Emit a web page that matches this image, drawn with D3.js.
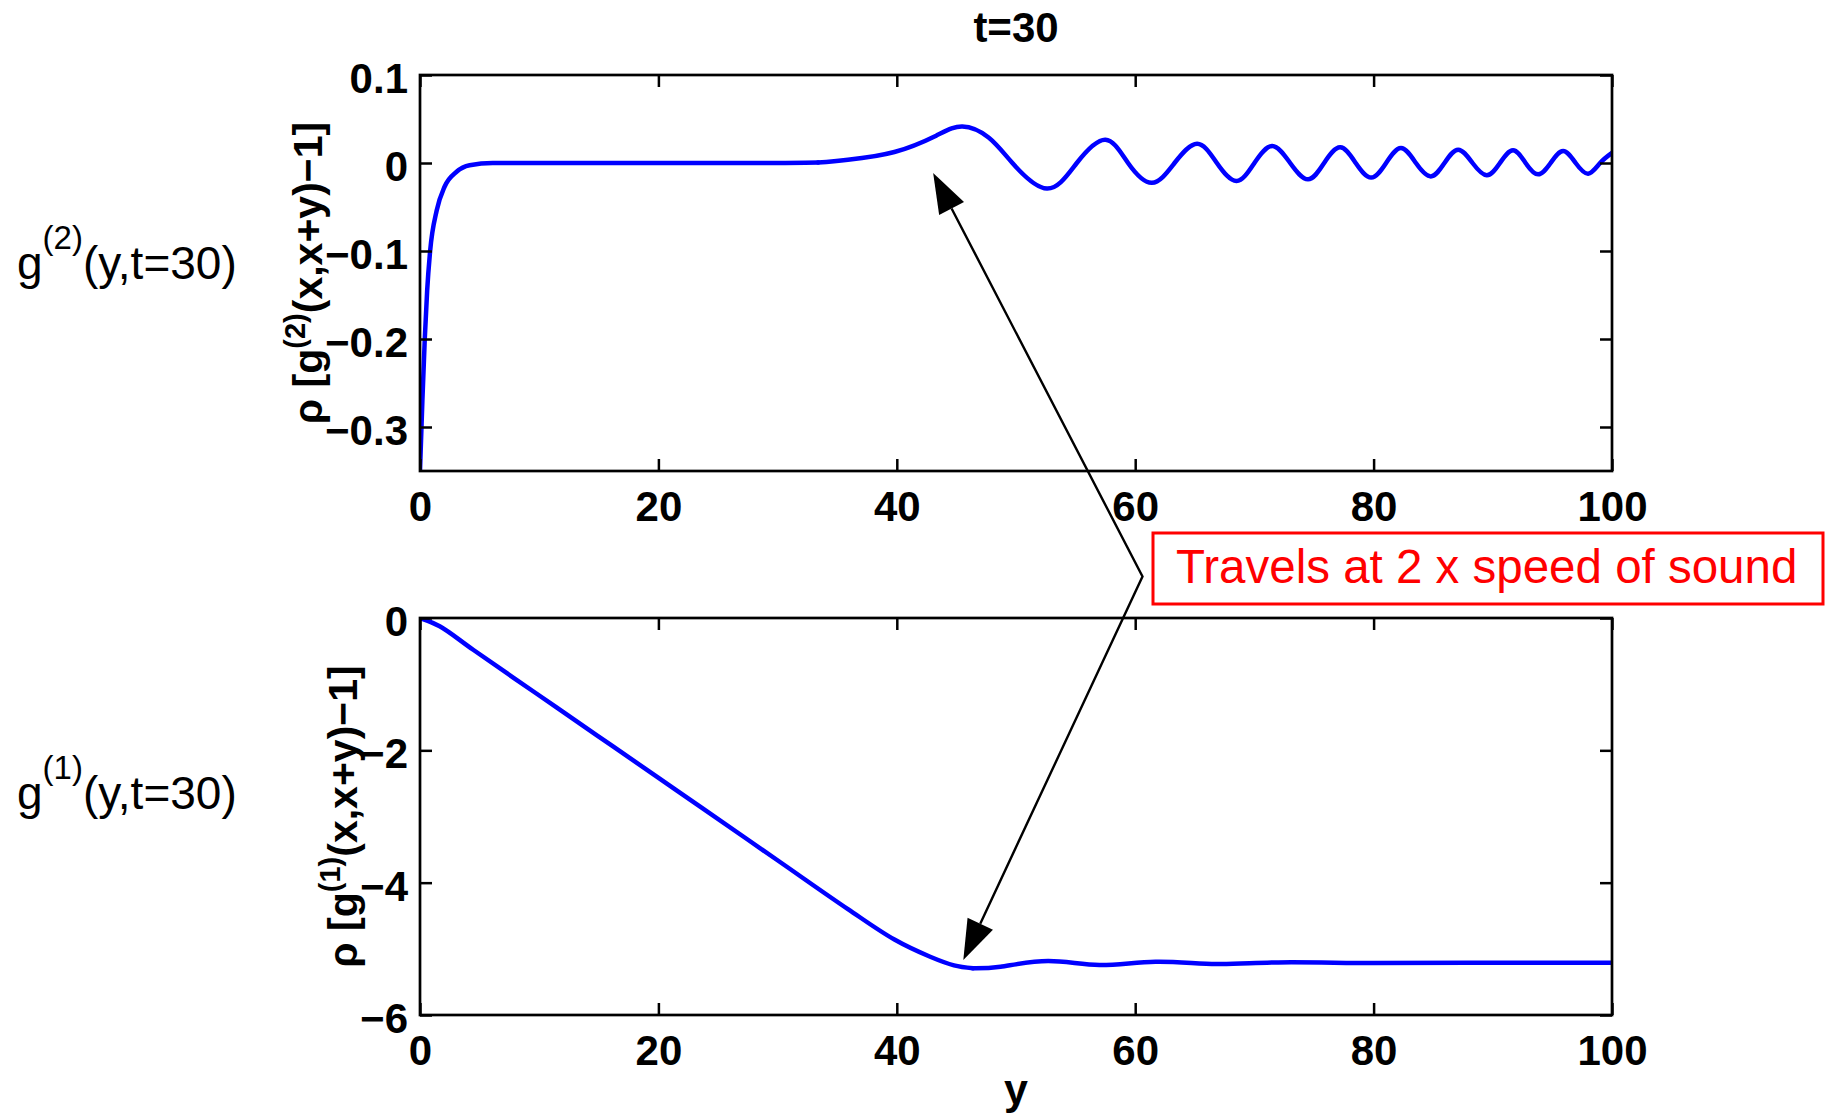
<!DOCTYPE html>
<html>
<head>
<meta charset="utf-8">
<script src="https://cdn.jsdelivr.net/npm/d3@7"></script>
<style>
  html, body { margin: 0; padding: 0; background: #fff; }
  svg { display: block; }
</style>
</head>
<body>
<div id="canvas"></div>
<script>
// g2(y,t=30): density-density correlation along y
var g2X = [0, 0.2, 0.4, 0.6, 0.85, 1.4, 2.06, 3.07, 4.16, 6.1, 15, 25, 30, 33.4,
  35.9, 39.8, 43.3, 45.5, 47.7, 49.7, 52.6, 55.1, 57.5, 59.4, 61.4, 63.3, 65.2, 66.85,
  68.5, 70.0, 71.5, 73.0, 74.5, 75.85, 77.2, 78.5, 79.8, 81.05, 82.3, 83.55, 84.8,
  85.95, 87.1, 88.3, 89.5, 90.6, 91.7, 92.75, 93.8, 94.85, 95.9, 96.95, 98.0, 99.0, 100];
var g2Y = [-0.35, -0.27, -0.20, -0.145, -0.10, -0.054, -0.027, -0.010, -0.0026, 0, 0, 0, 0, 0.0005,
  0.0038, 0.0125, 0.031, 0.0415, 0.029, 0, -0.029, 0, 0.0264, 0, -0.0225, 0, 0.0219, 0,
  -0.0204, 0, 0.0193, 0, -0.0186, 0, 0.0178, 0, -0.0166, 0, 0.017, 0, -0.0152,
  0, 0.0151, 0, -0.014, 0, 0.0144, 0, -0.0129, 0, 0.0136, 0, -0.0121, 0, 0.0115];

// g1(y,t=30): one-body correlation along y
var g1X = [0, 1.65, 4.46, 9.67, 14.9, 19.8, 23.5, 29.9, 35.9, 39.8, 42.8, 44.8, 46.4,
  48.7, 52.7, 57.0, 61.7, 66.8, 72, 80, 90, 100];
var g1Y = [0, -0.124, -0.48, -1.13, -1.78, -2.39, -2.85, -3.65, -4.40, -4.86, -5.12, -5.25, -5.295,
  -5.27, -5.185, -5.245, -5.195, -5.23, -5.205, -5.215, -5.21, -5.21];

var xTicks = [0, 20, 40, 60, 80, 100];
var xTickLabels = ["0", "20", "40", "60", "80", "100"];
var g2Ticks = [0.1, 0, -0.1, -0.2, -0.3];
var g2TickLabels = ["0.1", "0", "\u22120.1", "\u22120.2", "\u22120.3"];
var g1Ticks = [0, -2, -4, -6];
var g1TickLabels = ["0", "\u22122", "\u22124", "\u22126"];

var W = 1826, H = 1117;
var left = 420, right = 1612;
var font = "'Liberation Sans', Arial, Helvetica, sans-serif";

var svg = d3.select("#canvas").append("svg")
    .attr("width", W)
    .attr("height", H);

var x = d3.scaleLinear().domain([0, 100]).range([left, right]);

function panel(o) {
  var y = d3.scaleLinear().domain(o.domain).range([o.bottom, o.top]);
  var g = svg.append("g");

  g.append("clipPath").attr("id", o.id + "-clip")
    .append("rect")
      .attr("x", left).attr("y", o.top)
      .attr("width", right - left).attr("height", o.bottom - o.top);

  // steep/flat head and the oscillating tail get different spline types
  var pts = d3.zip(o.xs, o.ys);
  var k = o.xs.indexOf(o.split);
  [[pts.slice(0, k + 1), o.headCurve], [pts.slice(k), d3.curveNatural]].forEach(function(part) {
    g.append("path")
        .datum(part[0])
        .attr("clip-path", "url(#" + o.id + "-clip)")
        .attr("fill", "none")
        .attr("stroke", "#0000ff")
        .attr("stroke-width", 4.5)
        .attr("stroke-linecap", "round")
        .attr("stroke-linejoin", "round")
        .attr("d", d3.line()
          .x(function(d) { return x(d[0]); })
          .y(function(d) { return y(d[1]); })
          .curve(part[1]));
  });

  // ticks on all four sides, pointing inwards
  g.append("g")
      .attr("transform", "translate(0," + o.bottom + ")")
      .call(d3.axisBottom(x).tickValues(xTicks)
        .tickFormat(function(d, i) { return xTickLabels[i]; })
        .tickSizeInner(-12).tickSizeOuter(0).tickPadding(20));
  g.append("g")
      .attr("transform", "translate(0," + o.top + ")")
      .call(d3.axisTop(x).tickValues(xTicks).tickFormat("")
        .tickSizeInner(-12).tickSizeOuter(0));
  var yl = g.append("g")
      .attr("transform", "translate(" + left + ",0)")
      .call(d3.axisLeft(y).tickValues(o.ticks)
        .tickFormat(function(d, i) { return o.labels[i]; })
        .tickSizeInner(-12).tickSizeOuter(0).tickPadding(12));
  g.append("g")
      .attr("transform", "translate(" + right + ",0)")
      .call(d3.axisRight(y).tickValues(o.ticks).tickFormat("")
        .tickSizeInner(-12).tickSizeOuter(0));

  g.selectAll(".domain").remove();
  g.selectAll(".tick line").attr("stroke", "#000").attr("stroke-width", 2.5);
  g.selectAll(".tick text")
      .attr("fill", "#000")
      .attr("font-family", font)
      .attr("font-weight", "bold")
      .attr("font-size", 42);
  yl.selectAll(".tick text").attr("dy", "0.42em");

  g.append("rect")
      .attr("x", left).attr("y", o.top)
      .attr("width", right - left).attr("height", o.bottom - o.top)
      .attr("fill", "none")
      .attr("stroke", "#000")
      .attr("stroke-width", 2.7);

  // rotated y label with superscript
  var yt = g.append("text")
      .attr("transform", "translate(" + o.titleX + "," + (o.top + o.bottom) / 2 + ") rotate(-90)")
      .attr("text-anchor", "middle")
      .attr("font-family", font)
      .attr("font-weight", "bold")
      .attr("font-size", 41);
  yt.append("tspan").text("\u03c1 [g");
  yt.append("tspan").attr("font-size", 29).attr("dy", -17).text(o.sup);
  yt.append("tspan").attr("dy", 17).text("(x,x+y)\u22121]");

  // side label
  var sl = svg.append("text")
      .attr("x", 17).attr("y", o.sideY)
      .attr("font-family", font)
      .attr("font-size", 46);
  sl.append("tspan").text("g");
  sl.append("tspan").attr("font-size", 33).attr("dy", -30).text(o.sup);
  sl.append("tspan").attr("dy", 30).text("(y,t=30)");

  return y;
}

var yTop = panel({
  id: "g2", top: 75, bottom: 471, domain: [-0.35, 0.1],
  ticks: g2Ticks, labels: g2TickLabels, xs: g2X, ys: g2Y,
  split: 33.4, headCurve: d3.curveMonotoneX,
  sup: "(2)", titleX: 322, sideY: 279
});

var yBot = panel({
  id: "g1", top: 618, bottom: 1015, domain: [-6, 0],
  ticks: g1Ticks, labels: g1TickLabels, xs: g1X, ys: g1Y,
  split: 46.4, headCurve: d3.curveCatmullRom.alpha(0.5),
  sup: "(1)", titleX: 357, sideY: 809
});

svg.append("text")
    .attr("x", (left + right) / 2).attr("y", 41.5)
    .attr("text-anchor", "middle")
    .attr("font-family", font)
    .attr("font-weight", "bold")
    .attr("font-size", 42)
    .text("t=30");

svg.append("text")
    .attr("x", (left + right) / 2).attr("y", 1104)
    .attr("text-anchor", "middle")
    .attr("font-family", font)
    .attr("font-weight", "bold")
    .attr("font-size", 43)
    .text("y");

// annotation box and the two arrows leaving it
var box = { x: 1153, y: 533, w: 670, h: 71 };
svg.append("rect")
    .attr("x", box.x).attr("y", box.y)
    .attr("width", box.w).attr("height", box.h)
    .attr("fill", "#fff")
    .attr("stroke", "#ff0000")
    .attr("stroke-width", 3);
svg.append("text")
    .attr("x", box.x + 23).attr("y", box.y + 50)
    .attr("font-family", font)
    .attr("font-size", 47.5)
    .attr("fill", "#ff0000")
    .text("Travels at 2 x speed of sound");

var vertex = [box.x - 10.5, box.y + 43.5];
var tips = [
  [x(43.05), yTop(-0.0113)],
  [x(45.58), yBot(-5.168)]
];
var headLen = 40, headHalf = 14;
var bases = tips.map(function(t) {
  var dx = t[0] - vertex[0], dy = t[1] - vertex[1];
  var len = Math.hypot(dx, dy);
  var ux = dx / len, uy = dy / len;
  var bx = t[0] - ux * headLen, by = t[1] - uy * headLen;
  svg.append("path")
      .attr("d", "M" + t[0] + "," + t[1] +
        "L" + (bx - uy * headHalf) + "," + (by + ux * headHalf) +
        "L" + (bx + uy * headHalf) + "," + (by - ux * headHalf) + "Z")
      .attr("fill", "#000");
  return [bx, by];
});
svg.append("path")
    .attr("d", "M" + bases[0] + "L" + vertex + "L" + bases[1])
    .attr("fill", "none")
    .attr("stroke", "#000")
    .attr("stroke-width", 2.4)
    .attr("stroke-linejoin", "miter");
</script>
</body>
</html>
